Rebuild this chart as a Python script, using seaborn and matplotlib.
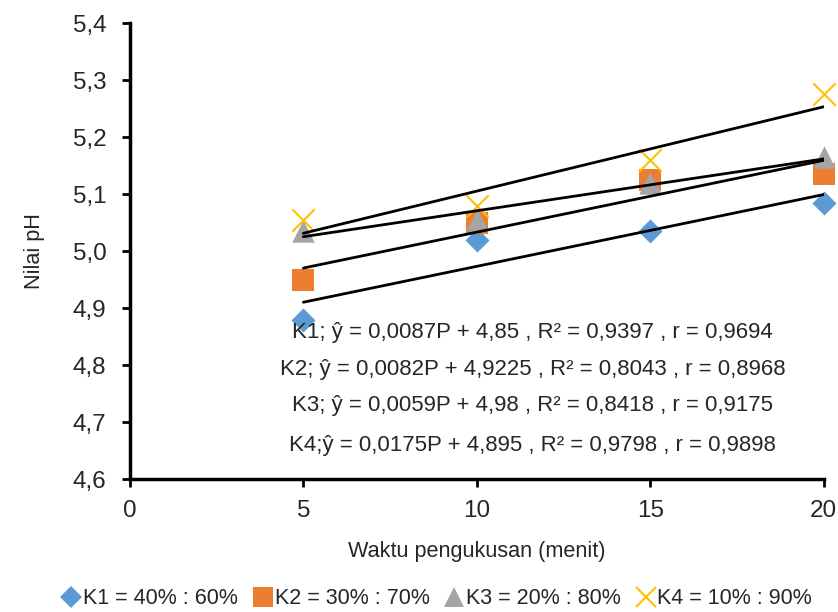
import matplotlib
matplotlib.use("Agg")
import matplotlib.pyplot as plt
import seaborn as sns
from matplotlib.lines import Line2D
from matplotlib.ticker import FuncFormatter

sns.set_style("white")
plt.rcParams["font.family"] = ["Liberation Sans", "DejaVu Sans"]

waktu = [5, 10, 15, 20]
k1 = [4.88, 5.02, 5.035, 5.085]
k2 = [4.95, 5.05, 5.125, 5.135]
k3 = [5.035, 5.055, 5.12, 5.165]
k4 = [5.055, 5.08, 5.16, 5.275]

labels = ["K1 = 40% : 60%", "K2 = 30% : 70%", "K3 = 20% : 80%", "K4 = 10% : 90%"]
colors = ["#5B9BD5", "#ED7D31", "#A5A5A5", "#FFC000"]
markers = ["D", "s", "^", "x"]
sizes = [150, 260, 260, 260]

persamaan = [
    "K1; ŷ = 0,0087P + 4,85 , R² = 0,9397 , r = 0,9694",
    "K2; ŷ = 0,0082P + 4,9225 , R² = 0,8043 , r = 0,8968",
    "K3; ŷ = 0,0059P + 4,98 , R² = 0,8418 , r = 0,9175",
    "K4;ŷ = 0,0175P + 4,895 , R² = 0,9798 , r = 0,9898",
]
pos_teks = [4.857, 4.792, 4.729, 4.659]

fig = plt.figure(figsize=(8.38, 6.12), dpi=100)
ax = fig.add_axes([0.155, 0.217, 0.828, 0.745])

# titik data + garis tren linear (di atas titik, seperti Excel)
for y, c, m, s in zip([k1, k2, k3, k4], colors, markers, sizes):
    lw = 1.5 if m == "x" else 0
    sns.regplot(x=waktu, y=y, ax=ax, ci=None, marker=m, truncate=True,
                scatter_kws={"s": s, "color": c, "zorder": 2, "clip_on": False,
                             "linewidths": lw, "alpha": 1},
                line_kws={"color": "black", "lw": 2, "zorder": 3})

for t, yy in zip(persamaan, pos_teks):
    ax.text(11.6, yy, t, ha="center", va="center", fontsize=16)

ax.set_xlim(0, 20)
ax.set_ylim(4.6, 5.4)
ax.set_xticks([0, 5, 10, 15, 20])
ax.set_yticks([4.6, 4.7, 4.8, 4.9, 5.0, 5.1, 5.2, 5.3, 5.4])
ax.yaxis.set_major_formatter(FuncFormatter(lambda v, p: f"{v:.1f}".replace(".", ",")))
ax.tick_params(axis="both", direction="out", length=6, width=2, labelsize=17.5,
               left=True, bottom=True, color="black")
ax.tick_params(axis="x", pad=9)
ax.tick_params(axis="y", pad=11)
for side in ["top", "right"]:
    ax.spines[side].set_visible(False)
for side in ["left", "bottom"]:
    ax.spines[side].set_linewidth(2.5)
    ax.spines[side].set_color("black")
ax.set_xlabel("Waktu pengukusan (menit)", fontsize=15.6, labelpad=14)
ax.set_ylabel("Nilai pH", fontsize=15.6, labelpad=20)

handles = [Line2D([], [], marker=m, color=c, linestyle="none", markersize=ms,
                  markeredgewidth=1.5 if m == "x" else 0)
           for m, c, ms in zip(markers, colors, [11, 15, 15, 15])]
fig.legend(handles, labels, loc="center", bbox_to_anchor=(0.52, 0.022), ncol=4,
           frameon=False, fontsize=15.5, handletextpad=0.0, columnspacing=0.6,
           handlelength=1.1)

fig.savefig("out.png", dpi=100, facecolor="white")
